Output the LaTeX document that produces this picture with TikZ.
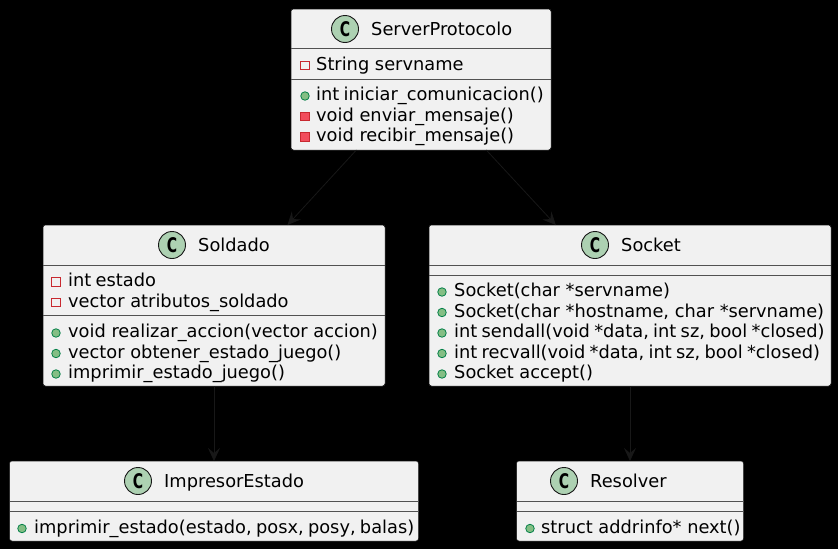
\documentclass[tikz,border=0pt]{standalone}
\usepackage{fontspec}
\setmainfont{DejaVu Sans}
\usetikzlibrary{positioning,arrows.meta}
\definecolor{boxfill}{HTML}{F1F1F1}
\definecolor{inkline}{HTML}{181818}
\definecolor{classgreen}{HTML}{ADD1B2}
\definecolor{pubfill}{HTML}{84BE84}
\definecolor{publine}{HTML}{038048}
\definecolor{privfill}{HTML}{F24D5C}
\definecolor{privline}{HTML}{C82930}
\newcommand{\markletter}{\scalebox{0.78}[1.12]{C}}
\newcommand{\tightwords}{\spaceskip=4.3pt\relax}
\tikzset{
  classbox/.style={draw=inkline, fill=boxfill, line width=0.5pt, rounded corners=2.5pt,
                   outer sep=0pt, inner sep=0pt},
  sepline/.style={draw=inkline!75, line width=0.5pt},
  classmark/.style={circle, draw=inkline, fill=classgreen, line width=0.9pt, minimum size=27pt,
                    inner sep=0pt, font=\fontsize{18}{18}\selectfont\bfseries},
  classname/.style={anchor=base west, inner sep=0pt, font=\fontsize{17.8}{22}\selectfont},
  member/.style={anchor=base west, inner sep=0pt, font=\fontsize{17.8}{22}\selectfont},
  tightmember/.style={member, font=\fontsize{17.8}{22}\selectfont\tightwords},
  pubicon/.style={circle, draw=publine, fill=pubfill, line width=0.8pt, minimum size=8.5pt, inner sep=0pt},
  privfield/.style={rectangle, draw=privline, fill=boxfill, line width=0.9pt, minimum size=8.5pt, inner sep=0pt},
  privmethod/.style={rectangle, draw=privline, fill=privfill, line width=0.9pt, minimum size=8.5pt, inner sep=0pt},
  assoc/.style={draw=inkline, line width=0.8pt, -{Stealth[length=13pt,width=12pt,inset=5pt]}}
}
\begin{document}
\begin{tikzpicture}[x=1pt,y=-1pt]
\useasboundingbox (0,0) rectangle (838,549);
\fill[black] (0,0) rectangle (838,549);

% class boxes
\node[classbox, minimum width=260pt, minimum height=141pt] (SP) at (421,79.5) {};
\node[classbox, minimum width=342pt, minimum height=161pt] (SD) at (214,305.5) {};
\node[classbox, minimum width=402pt, minimum height=161pt] (SK) [right=44pt of SD] {};
\node[classbox, minimum width=409pt, minimum height=80pt] (IE) [below=75pt of SD] {};
\node[classbox, minimum width=227pt, minimum height=80pt] (RS) [below=75pt of SK] {};

% connectors
\draw[assoc] (SP) -- (SD);
\draw[assoc] (SP) -- (SK);
\draw[assoc] (SD) -- (IE);
\draw[assoc] (SK) -- (RS);

% ServerProtocolo
\node[classmark] (SPmark) at (345,29) {\markletter};
\node[classname] (SPname) at (371,35) {ServerProtocolo};
\draw[sepline] (SP.west |- 0,48) -- (SP.east |- 0,48);
\draw[sepline] (SP.west |- 0,79) -- (SP.east |- 0,79);
\node[privfield] (SPi1) at (305,65.5) {};
\node[member] (SPt1) at (316,70.5) {String servname};
\node[pubicon] (SPi2) at (305,96) {};
\node[tightmember] (SPt2) at (316,100.5) {int iniciar\_comunicacion()};
\node[privmethod] (SPi3) at (305,116.5) {};
\node[member] (SPt3) at (316,121) {void enviar\_mensaje()};
\node[privmethod] (SPi4) at (305,137) {};
\node[member] (SPt4) at (316,141.5) {void recibir\_mensaje()};

% Soldado
\node[classmark] (SDmark) at (172,245) {\markletter};
\node[classname] (SDname) at (198,251) {Soldado};
\draw[sepline] (SD.west |- 0,265.5) -- (SD.east |- 0,265.5);
\draw[sepline] (SD.west |- 0,315) -- (SD.east |- 0,315);
\node[privfield] (SDi1) at (56,282) {};
\node[tightmember] (SDt1) at (68,286.5) {int estado};
\node[privfield] (SDi2) at (56,302.5) {};
\node[member] (SDt2) at (68,307) {vector atributos\_soldado};
\node[pubicon] (SDi3) at (56,333) {};
\node[member] (SDt3) at (68,337.5) {void realizar\_accion(vector accion)};
\node[pubicon] (SDi4) at (56,353.5) {};
\node[member] (SDt4) at (68,358) {vector obtener\_estado\_juego()};
\node[pubicon] (SDi5) at (56,374) {};
\node[member] (SDt5) at (68,378.5) {imprimir\_estado\_juego()};

% Socket
\node[classmark] (SKmark) at (595,245) {\markletter};
\node[classname] (SKname) at (621,251) {Socket};
\draw[sepline] (SK.west |- 0,265.5) -- (SK.east |- 0,265.5);
\draw[sepline] (SK.west |- 0,275) -- (SK.east |- 0,275);
\node[pubicon] (SKi1) at (442,292) {};
\node[member] (SKt1) at (454,296.5) {Socket(char *servname)};
\node[pubicon] (SKi2) at (442,312.5) {};
\node[member] (SKt2) at (454,317) {Socket(char *hostname, char *servname)};
\node[pubicon] (SKi3) at (442,333) {};
\node[tightmember] (SKt3) at (454,337.5) {int sendall(void *data, int sz, bool *closed)};
\node[pubicon] (SKi4) at (442,353.5) {};
\node[tightmember] (SKt4) at (454,358) {int recvall(void *data, int sz, bool *closed)};
\node[pubicon] (SKi5) at (442,374) {};
\node[member] (SKt5) at (454,378.5) {Socket accept()};

% ImpresorEstado
\node[classmark] (IEmark) at (138,481) {\markletter};
\node[classname] (IEname) at (164,487) {ImpresorEstado};
\draw[sepline] (IE.west |- 0,501.5) -- (IE.east |- 0,501.5);
\draw[sepline] (IE.west |- 0,511) -- (IE.east |- 0,511);
\node[pubicon] (IEi1) at (22,528.5) {};
\node[tightmember] (IEt1) at (34,533) {imprimir\_estado(estado, posx, posy, balas)};

% Resolver
\node[classmark] (RSmark) at (564,481) {\markletter};
\node[classname] (RSname) at (590,487) {Resolver};
\draw[sepline] (RS.west |- 0,501.5) -- (RS.east |- 0,501.5);
\draw[sepline] (RS.west |- 0,511) -- (RS.east |- 0,511);
\node[pubicon] (RSi1) at (530,528.5) {};
\node[member] (RSt1) at (541,533) {struct addrinfo* next()};
\end{tikzpicture}
\end{document}
